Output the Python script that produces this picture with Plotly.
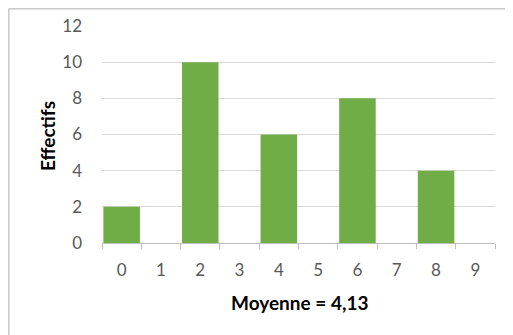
import plotly.graph_objects as go

categories = ["0", "1", "2", "3", "4", "5", "6", "7", "8", "9"]
effectifs = [2, 0, 10, 0, 6, 0, 8, 0, 4, 0]
y_ticks = [0, 2, 4, 6, 8, 10, 12]

# page body adds an 8px margin, so the figure is a bit smaller and shifted
OFF = 8
W, H = 513 - OFF, 335 - OFF
L, R, T, B = 102 - OFF, 18, 26 - OFF, 92
pw, ph = W - L - R, H - T - B

def px_x(x):
    return (x - OFF - L) / pw

def px_y(y):
    return (H - B - (y - OFF)) / ph

fig = go.Figure()
fig.add_trace(go.Bar(x=categories, y=effectifs, marker=dict(color="#70ad47", line=dict(width=0))))

fig.update_layout(
    width=W, height=H,
    margin=dict(l=L, r=R, t=T, b=B, autoexpand=False),
    paper_bgcolor="white", plot_bgcolor="white",
    bargap=0.07,
    showlegend=False,
    font=dict(family="Lato", color="#595959", size=17),
    xaxis=dict(
        type="category", showgrid=False, showline=True, linecolor="#bfbfbf", linewidth=1,
        ticks="outside", ticklen=5, tickcolor="#bfbfbf", tickson="boundaries",
        tickfont=dict(size=17, color="#595959"), ticklabelstandoff=12, automargin=False,
    ),
    yaxis=dict(
        range=[0, 12], tickvals=y_ticks, showgrid=True, gridcolor="#d9d9d9", gridwidth=1,
        zeroline=False, showline=False, ticks="", ticklabelstandoff=19, automargin=False,
        tickfont=dict(size=17, color="#595959"),
    ),
)

fig.add_annotation(text="<b>Moyenne = 4,13</b>", xref="paper", yref="paper", x=px_x(299), y=px_y(302),
                   xanchor="center", yanchor="middle", showarrow=False, font=dict(size=19, color="black"))
fig.add_annotation(text="<b>Effectifs</b>", xref="paper", yref="paper", x=px_x(47), y=px_y(136),
                   xanchor="center", yanchor="middle", textangle=-90, showarrow=False,
                   font=dict(size=19, color="black"))

# outer chart border (only left and top edges show)
fig.add_shape(type="line", xref="paper", yref="paper", x0=px_x(8.8), x1=px_x(8.8), y0=px_y(8.8), y1=px_y(340),
              line=dict(color="#c8c8c8", width=1.5))
fig.add_shape(type="line", xref="paper", yref="paper", x0=px_x(8.8), x1=px_x(520), y0=px_y(8.8), y1=px_y(8.8),
              line=dict(color="#c8c8c8", width=1.5))

fig.write_html("out.html")
